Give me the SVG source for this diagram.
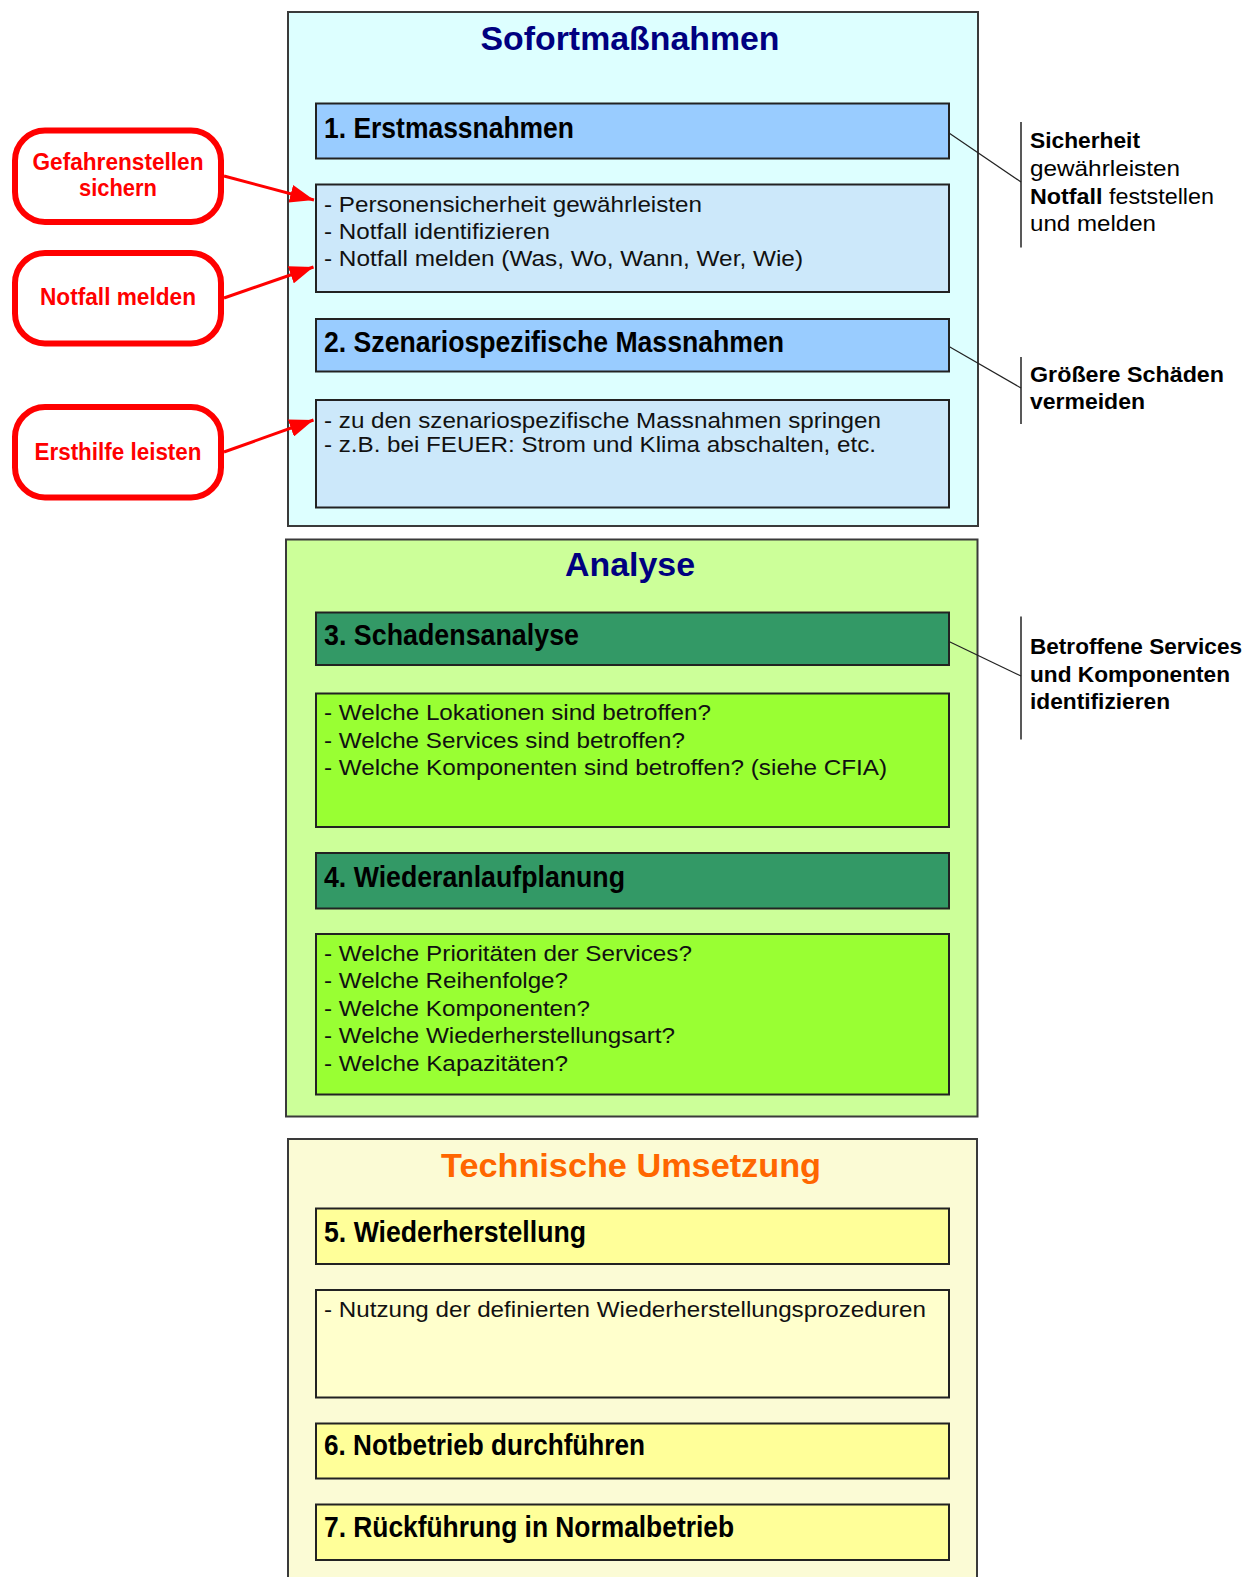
<svg xmlns="http://www.w3.org/2000/svg" width="1252" height="1577" viewBox="0 0 1252 1577">
<style>
.outer{stroke:#3a3a3a;stroke-width:2}
.box{stroke:#222;stroke-width:2}
.title{font-family:"Liberation Sans",Arial,sans-serif;font-weight:bold;font-size:34px}
.hdr{font-family:"Liberation Sans",Arial,sans-serif;font-weight:bold;font-size:29px;fill:#000}
.txt{font-family:"Liberation Sans",Arial,sans-serif;font-size:22px;fill:#111}
.red{fill:#fff;stroke:#ff0000;stroke-width:6}
.redt{font-family:"Liberation Sans",Arial,sans-serif;font-weight:bold;font-size:23px;fill:#ff0000}
.note{font-family:"Liberation Sans",Arial,sans-serif;font-size:22px;fill:#000}
.b{font-weight:bold}
.bar{stroke:#222;stroke-width:1.5}
.arr{stroke:#ff0000;stroke-width:3;fill:none}
.lead{stroke:#222;stroke-width:1.2;fill:none}
</style>
<defs>
<marker id="ah" markerUnits="userSpaceOnUse" markerWidth="26" markerHeight="18" refX="24" refY="9" orient="auto">
<path d="M0,0 L24,9 L0,18 Z" fill="#ff0000"/>
</marker>
</defs>
<rect width="1252" height="1577" fill="#fff"/>

<g id="sofort">
<rect class="outer" x="288" y="12" width="690" height="514" fill="#DDFFFF"/>
<text class="title" x="630" y="50" text-anchor="middle" fill="#000080" textLength="299" lengthAdjust="spacingAndGlyphs">Sofortmaßnahmen</text>
</g>
<g id="step1">
<rect class="box" x="316" y="103.5" width="633" height="55" fill="#99CCFF"/>
<text class="hdr" x="324" y="138" textLength="250" lengthAdjust="spacingAndGlyphs">1. Erstmassnahmen</text>
</g>
<g id="step1-detail">
<rect class="box" x="316" y="184.5" width="633" height="107.5" fill="#CCE8FA"/>
<text class="txt" x="324" y="212" textLength="378" lengthAdjust="spacingAndGlyphs">- Personensicherheit gewährleisten</text>
<text class="txt" x="324" y="238.5" textLength="226" lengthAdjust="spacingAndGlyphs">- Notfall identifizieren</text>
<text class="txt" x="324" y="265.5" textLength="479" lengthAdjust="spacingAndGlyphs">- Notfall melden (Was, Wo, Wann, Wer, Wie)</text>
</g>
<g id="step2">
<rect class="box" x="316" y="319" width="633" height="52.5" fill="#99CCFF"/>
<text class="hdr" x="324" y="351.5" textLength="460" lengthAdjust="spacingAndGlyphs">2. Szenariospezifische Massnahmen</text>
</g>
<g id="step2-detail">
<rect class="box" x="316" y="400" width="633" height="107.5" fill="#CCE8FA"/>
<text class="txt" x="324" y="427.5" textLength="557" lengthAdjust="spacingAndGlyphs">- zu den szenariospezifische Massnahmen springen</text>
<text class="txt" x="324" y="452" textLength="552" lengthAdjust="spacingAndGlyphs">- z.B. bei FEUER: Strom und Klima abschalten, etc.</text>
</g>

<g id="analyse">
<rect class="outer" x="286" y="539.5" width="691.5" height="577" fill="#CCFF99"/>
<text class="title" x="630" y="576" text-anchor="middle" fill="#000080" textLength="130" lengthAdjust="spacingAndGlyphs">Analyse</text>
</g>
<g id="step3">
<rect class="box" x="316" y="612.5" width="633" height="52.5" fill="#339966"/>
<text class="hdr" x="324" y="644.5" textLength="255" lengthAdjust="spacingAndGlyphs">3. Schadensanalyse</text>
</g>
<g id="step3-detail">
<rect class="box" x="316" y="693.5" width="633" height="133.5" fill="#99FF33"/>
<text class="txt" x="324" y="720" textLength="387" lengthAdjust="spacingAndGlyphs">- Welche Lokationen sind betroffen?</text>
<text class="txt" x="324" y="747.5" textLength="361" lengthAdjust="spacingAndGlyphs">- Welche Services sind betroffen?</text>
<text class="txt" x="324" y="775" textLength="563" lengthAdjust="spacingAndGlyphs">- Welche Komponenten sind betroffen? (siehe CFIA)</text>
</g>
<g id="step4">
<rect class="box" x="316" y="853" width="633" height="55.5" fill="#339966"/>
<text class="hdr" x="324" y="887" textLength="301" lengthAdjust="spacingAndGlyphs">4. Wiederanlaufplanung</text>
</g>
<g id="step4-detail">
<rect class="box" x="316" y="934" width="633" height="160.5" fill="#99FF33"/>
<text class="txt" x="324" y="961" textLength="368" lengthAdjust="spacingAndGlyphs">- Welche Prioritäten der Services?</text>
<text class="txt" x="324" y="988" textLength="244" lengthAdjust="spacingAndGlyphs">- Welche Reihenfolge?</text>
<text class="txt" x="324" y="1016" textLength="266" lengthAdjust="spacingAndGlyphs">- Welche Komponenten?</text>
<text class="txt" x="324" y="1043" textLength="351" lengthAdjust="spacingAndGlyphs">- Welche Wiederherstellungsart?</text>
<text class="txt" x="324" y="1071" textLength="244" lengthAdjust="spacingAndGlyphs">- Welche Kapazitäten?</text>
</g>

<g id="technik">
<rect class="outer" x="288" y="1139" width="689" height="460" fill="#FBFBD5"/>
<text class="title" x="631" y="1177" text-anchor="middle" fill="#FF6600" font-size="35" textLength="380" lengthAdjust="spacingAndGlyphs">Technische Umsetzung</text>
</g>
<g id="step5">
<rect class="box" x="316" y="1208.5" width="633" height="55.5" fill="#FFFF99"/>
<text class="hdr" x="324" y="1242" textLength="262" lengthAdjust="spacingAndGlyphs">5. Wiederherstellung</text>
</g>
<g id="step5-detail">
<rect class="box" x="316" y="1290" width="633" height="107.5" fill="#FFFFCC"/>
<text class="txt" x="324" y="1317" textLength="602" lengthAdjust="spacingAndGlyphs">- Nutzung der definierten Wiederherstellungsprozeduren</text>
</g>
<g id="step6">
<rect class="box" x="316" y="1423.5" width="633" height="55" fill="#FFFF99"/>
<text class="hdr" x="324" y="1455" textLength="321" lengthAdjust="spacingAndGlyphs">6. Notbetrieb durchführen</text>
</g>
<g id="step7">
<rect class="box" x="316" y="1504.5" width="633" height="55.5" fill="#FFFF99"/>
<text class="hdr" x="324" y="1537" textLength="410" lengthAdjust="spacingAndGlyphs">7. Rückführung in Normalbetrieb</text>
</g>

<g id="red-gefahr">
<rect class="red" x="15" y="130.5" width="206" height="91.5" rx="30" ry="30"/>
<text class="redt" x="118" y="170" text-anchor="middle" textLength="171" lengthAdjust="spacingAndGlyphs">Gefahrenstellen</text>
<text class="redt" x="118" y="195.5" text-anchor="middle" textLength="78" lengthAdjust="spacingAndGlyphs">sichern</text>
</g>
<g id="red-notfall">
<rect class="red" x="15" y="253" width="206" height="90.5" rx="30" ry="30"/>
<text class="redt" x="118" y="305" text-anchor="middle" textLength="156" lengthAdjust="spacingAndGlyphs">Notfall melden</text>
</g>
<g id="red-ersthilfe">
<rect class="red" x="15" y="407" width="206" height="90.5" rx="30" ry="30"/>
<text class="redt" x="118" y="460" text-anchor="middle" textLength="167" lengthAdjust="spacingAndGlyphs">Ersthilfe leisten</text>
</g>

<g id="note-sicherheit">
<line class="bar" x1="1021" y1="122" x2="1021" y2="247.5"/>
<text class="note b" x="1030" y="148" textLength="110" lengthAdjust="spacingAndGlyphs">Sicherheit</text>
<text class="note" x="1030" y="176" textLength="150" lengthAdjust="spacingAndGlyphs">gewährleisten</text>
<text class="note" x="1030" y="203.5" textLength="184" lengthAdjust="spacingAndGlyphs"><tspan class="b">Notfall</tspan> feststellen</text>
<text class="note" x="1030" y="231" textLength="126" lengthAdjust="spacingAndGlyphs">und melden</text>
</g>
<g id="note-schaeden">
<line class="bar" x1="1021" y1="357" x2="1021" y2="424"/>
<text class="note b" x="1030" y="382" textLength="194" lengthAdjust="spacingAndGlyphs">Größere Schäden</text>
<text class="note b" x="1030" y="408.5" textLength="115" lengthAdjust="spacingAndGlyphs">vermeiden</text>
</g>
<g id="note-betroffen">
<line class="bar" x1="1021" y1="616.5" x2="1021" y2="739.5"/>
<text class="note b" x="1030" y="654" textLength="212" lengthAdjust="spacingAndGlyphs">Betroffene Services</text>
<text class="note b" x="1030" y="682" textLength="200" lengthAdjust="spacingAndGlyphs">und Komponenten</text>
<text class="note b" x="1030" y="709" textLength="140" lengthAdjust="spacingAndGlyphs">identifizieren</text>
</g>

<g id="connectors">
<line class="arr" x1="224" y1="176" x2="314" y2="200" marker-end="url(#ah)"/>
<line class="arr" x1="224" y1="298" x2="313.5" y2="267" marker-end="url(#ah)"/>
<line class="arr" x1="224" y1="452" x2="313.5" y2="420" marker-end="url(#ah)"/>
<line class="lead" x1="949" y1="133" x2="1021" y2="182"/>
<line class="lead" x1="949" y1="346.5" x2="1021" y2="388"/>
<line class="lead" x1="949" y1="641.5" x2="1021" y2="676"/>
</g>
</svg>
